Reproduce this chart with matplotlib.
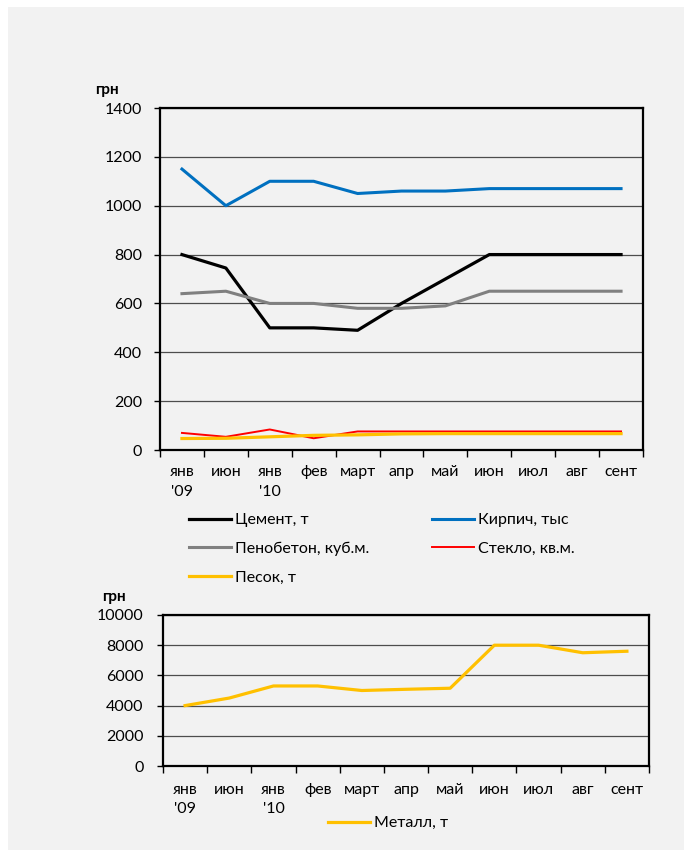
import matplotlib
matplotlib.use("Agg")
import matplotlib.pyplot as plt
from matplotlib.patches import Rectangle

plt.rcParams['font.family'] = ['Lato', 'DejaVu Sans']

# ---- data ----
categories = ["янв\n'09", "июн", "янв\n'10", "фев", "март", "апр",
              "май", "июн", "июл", "авг", "сент"]
cement = [800, 745, 500, 500, 490, 600, 700, 800, 800, 800, 800]
brick = [1150, 1000, 1100, 1100, 1050, 1060, 1060, 1070, 1070, 1070, 1070]
foam_concrete = [640, 650, 600, 600, 580, 580, 590, 650, 650, 650, 650]
glass = [70, 54, 84, 48, 76, 76, 76, 76, 76, 76, 76]
sand = [47, 48, 54, 60, 62, 66, 67, 67, 67, 67, 67]
metal = [4000, 4500, 5300, 5300, 5000, 5080, 5150, 8000, 8000, 7500, 7600]

top_ticks = [0, 200, 400, 600, 800, 1000, 1200, 1400]
bottom_ticks = [0, 2000, 4000, 6000, 8000, 10000]

BG = '#f2f2f2'
W, H = 684, 850
fig = plt.figure(figsize=(W / 100, H / 100), dpi=100)
fig.patch.set_facecolor('white')
fig.add_artist(Rectangle((8 / W, 0), 1, 1 - 7 / H, transform=fig.transFigure,
                         facecolor=BG, edgecolor='none', zorder=-10))


def px_axes(x0, y0, x1, y1):
    return fig.add_axes([x0 / W, 1 - y1 / H, (x1 - x0) / W, (y1 - y0) / H])


def style(ax, yticks, ylabpad, xpad):
    n = len(categories)
    ax.set_facecolor('none')
    ax.set_xlim(-0.5, n - 0.5)
    ax.set_ylim(yticks[0], yticks[-1])
    ax.set_yticks(yticks)
    ax.set_xticks(range(n))
    ax.set_xticklabels(categories, linespacing=1.5, fontsize=11.5, va='top')
    ax.set_xticks([i - 0.5 for i in range(n + 1)], minor=True)
    ax.tick_params(axis='x', which='major', length=0, pad=xpad)
    ax.tick_params(axis='x', which='minor', length=5, width=1, direction='out')
    ax.tick_params(axis='y', length=4, width=1, direction='out', pad=ylabpad,
                   labelsize=11.5)
    for lab in ax.get_xticklabels():
        lab.set_ha('center')
    ax.grid(axis='y', color='#4d4d4d', linewidth=0.9)
    ax.set_axisbelow(True)
    for s in ax.spines.values():
        s.set_color('black')
        s.set_linewidth(1.6)


# ---- top chart ----
ax1 = px_axes(160, 108, 643, 450)
x = range(len(categories))
l_cem, = ax1.plot(x, cement, color='black', lw=2.3, label='Цемент, т')
l_brk, = ax1.plot(x, brick, color='#0070C0', lw=2.2, label='Кирпич, тыс')
l_foam, = ax1.plot(x, foam_concrete, color='#808080', lw=2.2, label='Пенобетон, куб.м.')
l_gls, = ax1.plot(x, glass, color='#FF0000', lw=1.4, label='Стекло, кв.м.')
l_snd, = ax1.plot(x, sand, color='#FFC000', lw=2.3, label='Песок, т')
style(ax1, top_ticks, 9, 11)
fig.text(95 / W, 1 - 90 / H, 'грн', fontsize=11, fontweight='bold', va='center')

leg_kw = dict(frameon=False, fontsize=11.5, handlelength=2.6, handletextpad=0.3,
              labelspacing=0.9, borderpad=0, borderaxespad=0, loc='upper left')
leg1 = fig.legend(handles=[l_cem, l_foam, l_snd], bbox_to_anchor=(189 / W, 1 - 513 / H), **leg_kw)
leg2 = fig.legend(handles=[l_brk, l_gls], bbox_to_anchor=(432 / W, 1 - 513 / H), **leg_kw)

# ---- bottom chart ----
ax2 = px_axes(163, 615, 649, 766)
l_met, = ax2.plot(x, metal, color='#FFC000', lw=2.3, label='Металл, т')
style(ax2, bottom_ticks, 10, 12)
fig.text(102 / W, 1 - 597 / H, 'грн', fontsize=11, fontweight='bold', va='center')
fig.legend(handles=[l_met], bbox_to_anchor=(328 / W, 1 - 816 / H), **leg_kw)

fig.savefig('out.png', dpi=100, facecolor=fig.get_facecolor())
